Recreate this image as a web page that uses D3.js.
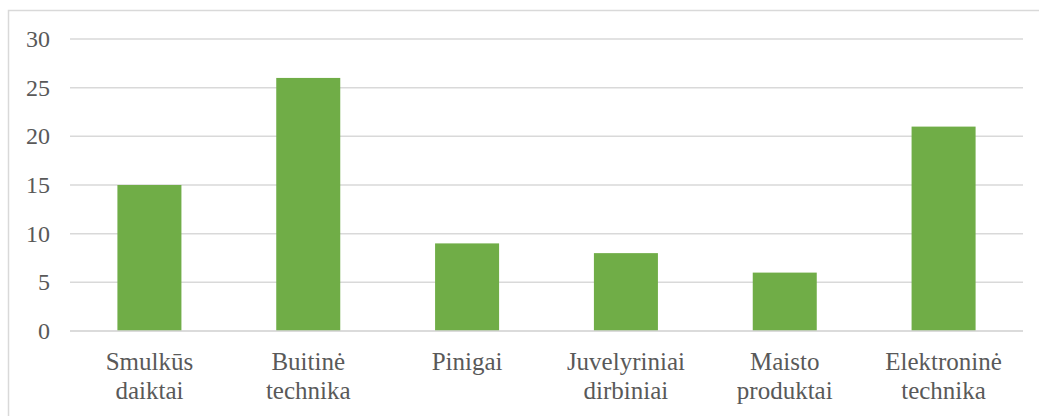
<!DOCTYPE html>
<html><head><meta charset="utf-8">
<script src="https://cdn.jsdelivr.net/npm/d3@7"></script>
<style>body{margin:0;background:#fff;} svg text{font-family:"Liberation Serif","Times New Roman",serif !important;}</style>
</head><body>
<svg id="c" width="1039" height="416" style="display:block"></svg>
<script>
const categories = [["Smulkūs","daiktai"],["Buitinė","technika"],["Pinigai"],["Juvelyriniai","dirbiniai"],["Maisto","produktai"],["Elektroninė","technika"]];
const values = [15, 26, 9, 8, 6, 21];
const yTicks = [0, 5, 10, 15, 20, 25, 30];

const FONT = '"Liberation Serif", "Times New Roman", serif';
const svg = d3.select("#c");
svg.append("rect").attr("x",8.5).attr("y",10.5).attr("width",1040).attr("height",420)
  .attr("fill","#fff").attr("stroke","#d9d9d9").attr("stroke-width",1.5);

const x = d3.scaleBand().domain(d3.range(categories.length)).range([70,1023]).padding(0);
const y = d3.scaleLinear().domain([0,30]).range([331,39]);

yTicks.forEach(d=>{
  svg.append("line").attr("x1",70).attr("x2",1023).attr("y1",y(d)).attr("y2",y(d))
    .attr("stroke","#d9d9d9").attr("stroke-width",1.5);
  svg.append("text").attr("x",50).attr("y",y(d)+8).attr("text-anchor","end")
    .attr("font-family",FONT).style("font-family",FONT)
    .style("font-size","24px").style("fill","#595959").text(d);
});

const bw = x.bandwidth()*0.403;
values.forEach((v,i)=>{
  svg.append("rect").attr("x",x(i)+x.bandwidth()/2-bw/2).attr("width",bw)
    .attr("y",y(v)).attr("height",y(0)-y(v)).attr("fill","#70ad47");
});
svg.append("line").attr("x1",70).attr("x2",1023).attr("y1",y(0)).attr("y2",y(0))
  .attr("stroke","#d9d9d9").attr("stroke-width",1.5);

categories.forEach((lines,i)=>{
  lines.forEach((l,j)=>{
    svg.append("text").attr("text-anchor","middle")
      .attr("x",x(i)+x.bandwidth()/2).attr("y",370+j*29)
      .attr("font-family",FONT).style("font-family",FONT)
      .style("font-size","25px").style("fill","#595959").text(l);
  });
});
</script>
</body></html>
